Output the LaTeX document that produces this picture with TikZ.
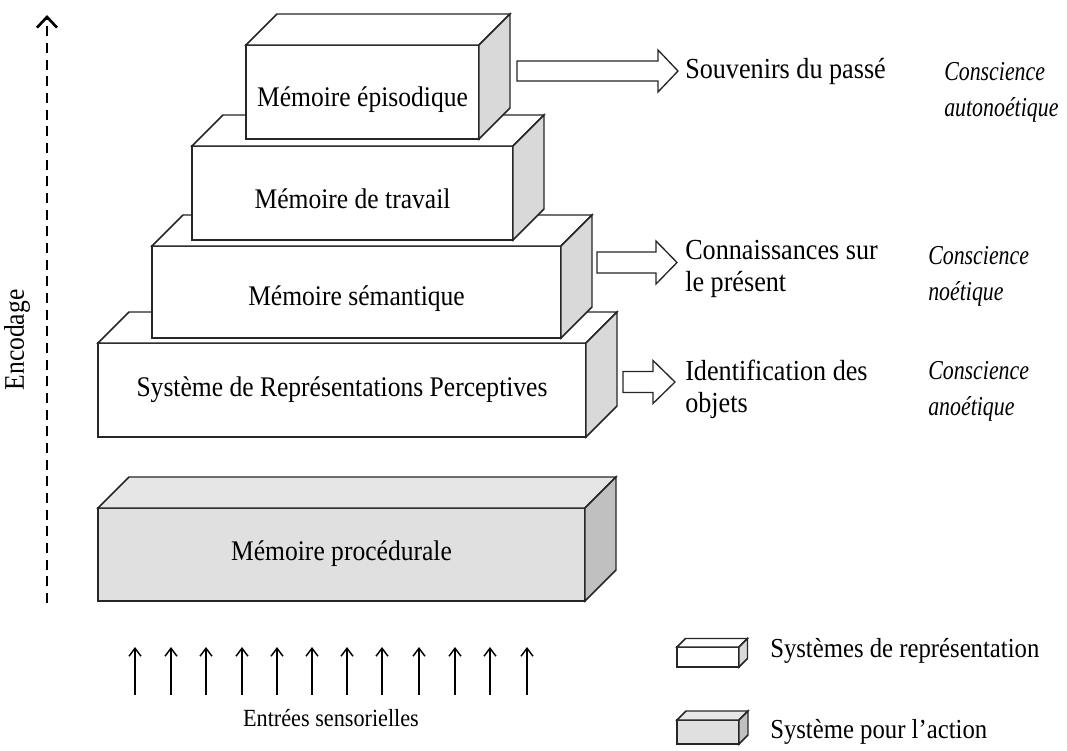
\documentclass[tikz,border=0pt]{standalone}
\usepackage{fontspec}
\setmainfont[FakeStretch=0.9]{Liberation Serif}
\newfontfamily\narrowserif[FakeStretch=0.8]{Liberation Serif}
\usetikzlibrary{arrows.meta,fit}

\definecolor{edge}{HTML}{262626}
\definecolor{sidegrey}{HTML}{D9D9D9}
\definecolor{procfront}{HTML}{E0E0E0}
\definecolor{proctop}{HTML}{E6E6E6}
\definecolor{procside}{HTML}{C0C0C0}

\tikzset{
  edgeline/.style={draw=edge, line width=1.1pt, line join=miter},
  frontW/.style={edgeline, fill=white, inner sep=0pt, outer sep=0pt},
  topW/.style={edgeline, fill=white},
  sideW/.style={edgeline, fill=sidegrey},
  frontG/.style={edgeline, fill=procfront, inner sep=0pt, outer sep=0pt},
  topG/.style={edgeline, fill=proctop},
  sideG/.style={edgeline, fill=procside},
  boxlabel/.style={font=\fontsize{21.3}{25}\selectfont, inner sep=0pt},
  sidetext/.style={font=\fontsize{21.8}{24}\selectfont, align=left, anchor=west, inner sep=0pt},
  consc/.style={font=\narrowserif\fontsize{20.5}{27}\selectfont\itshape, align=left, anchor=west, inner sep=0pt},
  legendtext/.style={font=\fontsize{20.6}{24}\selectfont, anchor=west, inner sep=0pt},
  blockarrow/.style={draw=edge, line width=1pt, fill=white, line join=miter},
  inarrow/.style={draw=black, line width=1.1pt, -{Straight Barb[length=6pt,width=9pt,line width=1.1pt]}},
  encode/.style={draw=black, line width=1.4pt, dash pattern=on 7.5pt off 5pt,
    -{Straight Barb[length=8pt,width=15pt,line width=2pt]}},
}

% a box: front face as a fitted node, then its top and right faces
% #1 name, #2-#5 front corners, #6 W/G look, #7 depth, #8 label, #9 label offset
\newcommand\memblock[9]{%
  \node[front#6, fit={(#2,#3) (#4,#5)}] (#1) {};
  \filldraw[top#6] (#1.north west) -- ++(#7,-#7) -- ([shift={(#7,-#7)}]#1.north east)
    -- (#1.north east) -- cycle;
  \filldraw[side#6] (#1.north east) -- ++(#7,-#7) -- ([shift={(#7,-#7)}]#1.south east)
    -- (#1.south east) -- cycle;
  \node[boxlabel] (#1-text) at ([yshift=#9]#1.center) {#8};
}

% outlined block arrow: start x, head base x, tip x, centre y, shaft half, head half
\newcommand\blockarrow[6]{%
  \draw[blockarrow] (#1,#4-#5) -- (#2,#4-#5) -- (#2,#4-#6) -- (#3,#4)
    -- (#2,#4+#6) -- (#2,#4+#5) -- (#1,#4+#5) -- cycle;
}

\begin{document}
\begin{tikzpicture}[x=0.75pt, y=-0.75pt]
\useasboundingbox (0,0) rectangle (1067,750);

% the memory systems, lowest first so each box sits in front of the one below
\memblock{srp}{98}{343}{586}{437}{W}{31}{Système de Représentations Perceptives}{0pt}
\memblock{sem}{152}{246}{561}{338}{W}{31}{Mémoire sémantique}{-5pt}
\memblock{trav}{192}{146}{513}{240}{W}{31}{Mémoire de travail}{-4pt}
\memblock{epi}{246}{45}{479}{139}{W}{31}{Mémoire épisodique}{-6pt}
\memblock{proc}{98}{508}{585}{601}{G}{31}{Mémoire procédurale}{1pt}

% outputs of the representation systems
\blockarrow{517}{658}{678}{71}{10}{21}
\blockarrow{597}{656}{677}{262.5}{10.5}{21.5}
\blockarrow{623}{653}{675}{382}{10.5}{21.5}

\node[sidetext] (souv) at (685,71) {Souvenirs du passé};
\node[sidetext] (conn) at (685,269) {Connaissances sur\\le présent};
\node[sidetext] (ident) at (685,389) {Identification des\\objets};

\node[consc] (auto) at (944,92) {Conscience\\autonoétique};
\node[consc] (noet) at (928,276) {Conscience\\noétique};
\node[consc] (anoet) at (928,391) {Conscience\\anoétique};

% encoding axis
\coordinate (encbot) at (47,603);
\coordinate (enctop) at (47,15);
\draw[encode] (encbot) -- (enctop);
\node[boxlabel, rotate=90] (enc) at (17,340) {Encodage};

% sensory inputs
\foreach \x [count=\i] in {135,171,206,242,277,312,347,382,419,455,490,527} {
  \coordinate (in\i-a) at (\x,695);
  \coordinate (in\i-b) at (\x,647);
  \draw[inarrow] (in\i-a) -- (in\i-b);
}
\node[font=\fontsize{18.5}{22}\selectfont, inner sep=0pt] (sens) at (331,718) {Entrées sensorielles};

% legend
\memblock{legW}{677}{647}{739}{667}{W}{8.5}{}{0pt}
\memblock{legG}{677}{720}{739}{744}{G}{9}{}{0pt}
\node[legendtext] (legWt) at (770,651) {Systèmes de représentation};
\node[legendtext] (legGt) at (770,732) {Système pour l’action};

\end{tikzpicture}
\end{document}
